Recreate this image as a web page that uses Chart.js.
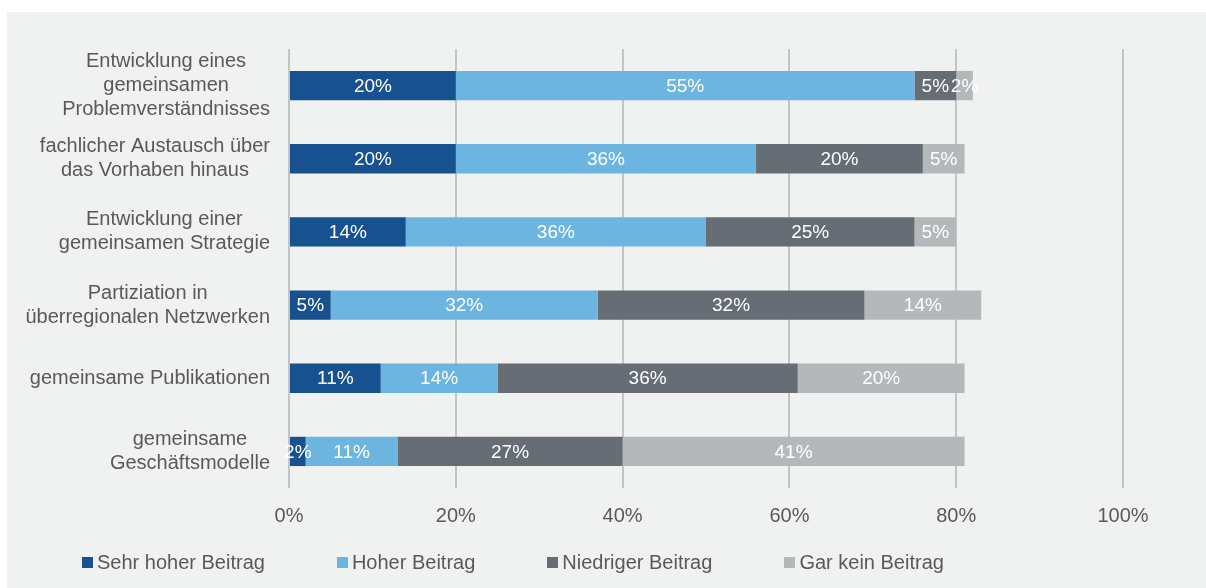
<!DOCTYPE html>
<html lang="de">
<head>
<meta charset="UTF-8">
<title>Beitrag der Kooperation</title>
<script src="https://cdn.jsdelivr.net/npm/chart.js"></script>
<style>
    html, body {
        margin: 0;
        padding: 0;
        background: #ffffff;
        font-family: 'Liberation Sans', Arial, sans-serif;
    }
    /* grey panel behind the chart */
    #panel {
        position: absolute;
        left: 7px;
        top: 12px;
        width: 1199px;
        height: 576px;
        background: #f0f1f1;
    }
    #chart {
        position: absolute;
        left: 0;
        top: 0;
    }
    #legend {
        position: absolute;
        left: 75px;
        top: 539px;
        display: flex;
        gap: 72px;
        font-size: 20px;
        color: #595959;
    }
    #legend span.item {
        display: flex;
        align-items: center;
        white-space: nowrap;
    }
    #legend span.box {
        display: inline-block;
        width: 11px;
        height: 11px;
        margin-right: 4px;
    }
</style>
</head>
<body>
<div id="panel">
    <canvas id="chart" width="1199" height="576"></canvas>
    <div id="legend"></div>
</div>

<script>
    // categories (one array of lines per row)
    const categories = [
        ['Entwicklung eines', 'gemeinsamen', 'Problemverständnisses'],
        ['fachlicher Austausch über', 'das Vorhaben hinaus'],
        ['Entwicklung einer', 'gemeinsamen Strategie'],
        ['Partiziation in', 'überregionalen Netzwerken'],
        ['gemeinsame Publikationen'],
        ['gemeinsame', 'Geschäftsmodelle']
    ];

    // series values in percent
    const sehrHoherBeitrag = [20, 20, 14, 5, 11, 2];
    const hoherBeitrag = [55, 36, 36, 32, 14, 11];
    const niedrigerBeitrag = [5, 20, 25, 32, 36, 27];
    const garKeinBeitrag = [2, 5, 5, 14, 20, 41];

    const seriesNames = ['Sehr hoher Beitrag', 'Hoher Beitrag', 'Niedriger Beitrag', 'Gar kein Beitrag'];
    const seriesColors = ['#175190', '#6db5e1', '#676d75', '#b5b8ba'];

    // x axis ticks
    const xTicks = [0, 20, 40, 60, 80, 100];

    const textColor = '#595959';
    const fontFamily = "'Liberation Sans', Arial, sans-serif";

    // draws the percentage inside each segment
    const valueLabels = {
        id: 'valueLabels',
        afterDatasetsDraw(chart) {
            const ctx = chart.ctx;
            ctx.save();
            ctx.font = '19px ' + fontFamily;
            ctx.fillStyle = '#ffffff';
            ctx.textAlign = 'center';
            ctx.textBaseline = 'middle';
            chart.data.datasets.forEach((ds, i) => {
                const meta = chart.getDatasetMeta(i);
                meta.data.forEach((bar, j) => {
                    const v = ds.data[j];
                    const cx = (bar.x + bar.base) / 2;
                    ctx.fillText(v + '%', cx, bar.y + 1);
                });
            });
            ctx.restore();
        }
    };

    // category labels: block right aligned, lines centred inside the block
    const categoryLabels = {
        id: 'categoryLabels',
        afterDraw(chart) {
            const ctx = chart.ctx;
            const yScale = chart.scales.y;
            const right = 263;
            const lineHeight = 24;
            ctx.save();
            ctx.font = '20px ' + fontFamily;
            ctx.fillStyle = textColor;
            ctx.textAlign = 'center';
            ctx.textBaseline = 'middle';
            categories.forEach((lines, i) => {
                const y = yScale.getPixelForTick(i);
                const maxW = Math.max(...lines.map(l => ctx.measureText(l).width));
                const cx = right - maxW / 2;
                const top = y - (lines.length - 1) * lineHeight / 2;
                lines.forEach((l, k) => ctx.fillText(l, cx, top + k * lineHeight));
            });
            ctx.restore();
        }
    };

    const values = [sehrHoherBeitrag, hoherBeitrag, niedrigerBeitrag, garKeinBeitrag];

    const ctx = document.getElementById('chart').getContext('2d');
    new Chart(ctx, {
        type: 'bar',
        data: {
            labels: categories.map(c => c.join(' ')),
            datasets: values.map((d, i) => ({
                label: seriesNames[i],
                data: d,
                backgroundColor: seriesColors[i],
                borderWidth: 0,
                categoryPercentage: 1,
                barPercentage: 0.4
            }))
        },
        options: {
            indexAxis: 'y',
            responsive: false,
            animation: false,
            layout: { padding: { top: 37, right: 83, left: 0, bottom: 0 } },
            plugins: {
                legend: { display: false },
                tooltip: { enabled: false }
            },
            scales: {
                x: {
                    stacked: true,
                    min: 0,
                    max: 100,
                    afterBuildTicks(scale) {
                        scale.ticks = xTicks.map(v => ({ value: v }));
                    },
                    afterFit(scale) {
                        scale.height = 100;
                        scale.paddingLeft = 0;
                        scale.paddingRight = 0;
                    },
                    grid: { color: '#c2c5c7', lineWidth: 2, drawTicks: false },
                    border: { display: false },
                    ticks: {
                        padding: 16,
                        color: textColor,
                        font: { size: 20, family: fontFamily },
                        callback: v => v + '%'
                    }
                },
                y: {
                    stacked: true,
                    afterFit(scale) {
                        scale.width = 282;
                    },
                    grid: { display: false },
                    border: { display: false },
                    ticks: { display: false }
                }
            }
        },
        plugins: [valueLabels, categoryLabels]
    });

    // legend built from the series arrays
    const legend = document.getElementById('legend');
    seriesNames.forEach((name, i) => {
        const item = document.createElement('span');
        item.className = 'item';
        item.innerHTML = '<span class="box" style="background:' + seriesColors[i] + '"></span>' + name;
        legend.appendChild(item);
    });
</script>
</body>
</html>
